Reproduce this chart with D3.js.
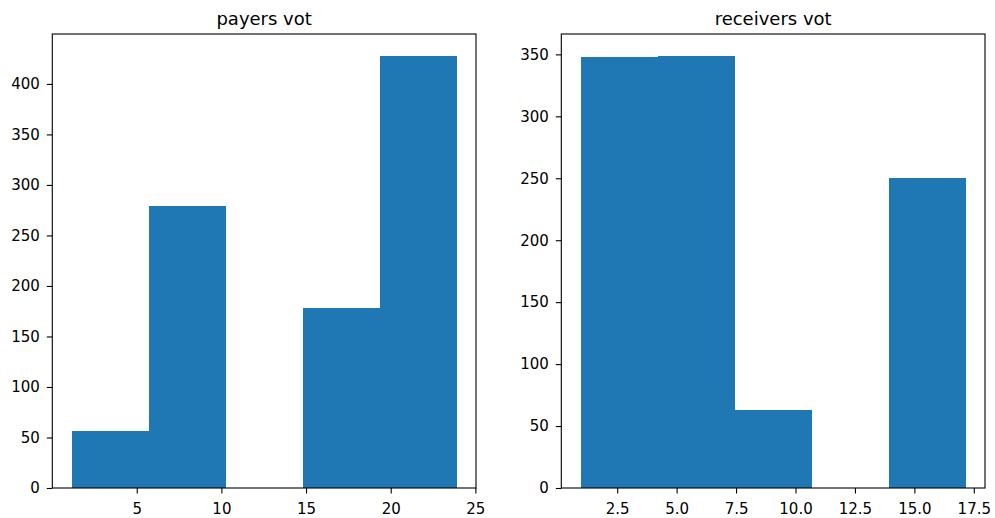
<!DOCTYPE html>
<html><head><meta charset="utf-8">
<script src="https://cdn.jsdelivr.net/npm/d3@7"></script>
<style>body{margin:0;background:#fff}svg{display:block}text{font-family:"DejaVu Sans",sans-serif;fill:#000}</style>
</head><body><svg id="c" width="995" height="518"></svg>
<script>
// Data
const payersTitle = "payers vot";
const payersEdges = [1.15, 5.7, 10.25, 14.8, 19.35, 23.9];
const payersCounts = [56, 279, 0, 178, 428];
const payersXTicks = [5, 10, 15, 20, 25];
const payersYTicks = [0, 50, 100, 150, 200, 250, 300, 350, 400];

const receiversTitle = "receivers vot";
const receiversEdges = [0.96, 4.2, 7.44, 10.68, 13.92, 17.16];
const receiversCounts = [348, 349, 63, 0, 250];
const receiversXTicks = [2.5, 5.0, 7.5, 10.0, 12.5, 15.0, 17.5];
const receiversYTicks = [0, 50, 100, 150, 200, 250, 300, 350];

const svg = d3.select("#c");
const color = "#1f77b4";

function panel(cfg){
  const {left, right, top, bottom, edges, counts, xTicks, yTicks, title, xFmt} = cfg;
  const lo = edges[0], hi = edges[edges.length-1];
  const m = (hi - lo) * 0.05;
  const x = d3.scaleLinear().domain([lo - m, hi + m]).range([left, right]);
  const y = d3.scaleLinear().domain([0, d3.max(counts) * 1.05]).range([bottom, top]);
  const g = svg.append("g");
  const bins = counts.map((c, i) => ({x0: edges[i], x1: edges[i+1], c}));
  g.selectAll("rect.bar").data(bins.filter(d => d.c > 0)).join("rect")
    .attr("class","bar")
    .attr("x", d => x(d.x0)).attr("width", d => x(d.x1) - x(d.x0))
    .attr("y", d => y(d.c)).attr("height", d => y(0) - y(d.c))
    .attr("fill", color).attr("shape-rendering","crispEdges");
  // frame
  g.append("rect").attr("x", left).attr("y", top).attr("width", right-left).attr("height", bottom-top)
    .attr("fill","none").attr("stroke","#000").attr("stroke-width",1.1);
  const xa = d3.axisBottom(x).tickValues(xTicks).tickSize(5.5).tickPadding(6).tickFormat(xFmt);
  const ya = d3.axisLeft(y).tickValues(yTicks).tickSize(5.5).tickPadding(7).tickFormat(d3.format("d"));
  const gx = g.append("g").attr("transform", `translate(0,${bottom})`).call(xa);
  const gy = g.append("g").attr("transform", `translate(${left},0)`).call(ya);
  [gx, gy].forEach(a => {
    a.select(".domain").remove();
    a.selectAll(".tick line").attr("stroke","#000").attr("stroke-width",1.1);
    a.selectAll(".tick text").style("font-size","15px").style("font-family","DejaVu Sans").attr("fill","#000");
  });
  gx.selectAll(".tick text").attr("dy", "0").attr("y", 26);
  g.append("text").attr("x", (left+right)/2).attr("y", 25).attr("text-anchor","middle")
    .style("font-size","18px").text(title);
}

panel({left:52.3, right:476, top:34, bottom:488, edges:payersEdges, counts:payersCounts,
  xTicks:payersXTicks, yTicks:payersYTicks, title:payersTitle, xFmt:d3.format("d")});
panel({left:561.3, right:985, top:34, bottom:488, edges:receiversEdges, counts:receiversCounts,
  xTicks:receiversXTicks, yTicks:receiversYTicks, title:receiversTitle, xFmt:d3.format(".1f")});
</script></body></html>
